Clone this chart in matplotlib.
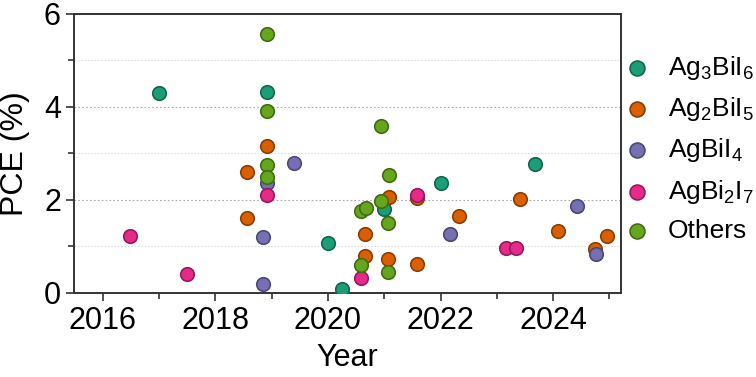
import numpy as np
import matplotlib
matplotlib.use("Agg")
import matplotlib.pyplot as plt
from matplotlib.colors import to_rgb
from matplotlib.ticker import MultipleLocator

plt.rcParams["font.family"] = ["Liberation Sans", "DejaVu Sans"]
plt.rcParams["mathtext.default"] = "regular"

# Ag3BiI6
ag3_year = [2017.0, 2018.91, 2020.0, 2020.25, 2021.0, 2022.0, 2023.67]
ag3_pce = [4.30, 4.33, 1.08, 0.08, 1.81, 2.37, 2.77]

# Ag2BiI5
ag2_year = [2018.57, 2018.57, 2018.91, 2020.66, 2020.66, 2021.09, 2021.07,
            2021.58, 2021.58, 2022.33, 2023.42, 2024.08, 2024.75, 2024.95]
ag2_pce = [2.60, 1.61, 3.17, 1.27, 0.79, 2.06, 0.72,
           2.04, 0.63, 1.66, 2.01, 1.33, 0.95, 1.23]

# AgBiI4
ag1_year = [2018.85, 2018.85, 2018.91, 2019.40, 2022.16, 2024.42, 2024.76]
ag1_pce = [1.21, 0.20, 2.37, 2.80, 1.27, 1.88, 0.84]

# AgBi2I7
agbi2_year = [2016.49, 2017.49, 2018.91, 2020.58, 2021.58, 2023.16, 2023.34]
agbi2_pce = [1.23, 0.41, 2.10, 0.32, 2.11, 0.97, 0.97]

# Others
oth_year = [2018.91, 2018.91, 2018.91, 2018.91, 2020.94, 2021.09, 2020.58,
            2020.67, 2020.94, 2021.07, 2020.58, 2021.07]
oth_pce = [5.56, 3.91, 2.76, 2.49, 3.60, 2.54, 1.77,
           1.83, 1.98, 1.51, 0.59, 0.44]

series = [
    ("Ag$_3$BiI$_6$", ag3_year, ag3_pce, "#1b9e77"),
    ("Ag$_2$BiI$_5$", ag2_year, ag2_pce, "#d95f02"),
    ("AgBiI$_4$", ag1_year, ag1_pce, "#7570b3"),
    ("AgBi$_2$I$_7$", agbi2_year, agbi2_pce, "#e7298a"),
    ("Others", oth_year, oth_pce, "#66a61e"),
]

fig = plt.figure(figsize=(7.56, 3.77), dpi=100)
ax = fig.add_axes([0.098, 0.223, 0.723, 0.740])

for label, xs, ys, col in series:
    edge = tuple(c * 0.65 for c in to_rgb(col))
    ax.scatter(xs, ys, s=95, color=col, edgecolors=[edge], linewidths=1.2,
               label=label, zorder=3)

ax.set_xlim(2015.49, 2025.2)
ax.set_ylim(0, 6)
ax.xaxis.set_major_locator(MultipleLocator(2))
ax.xaxis.set_minor_locator(MultipleLocator(1))
ax.yaxis.set_major_locator(MultipleLocator(2))
ax.yaxis.set_minor_locator(MultipleLocator(1))

ax.grid(True, which="major", axis="y", color="#aaaaaa", linestyle=(0, (1.5, 2)),
        linewidth=0.8, zorder=0)
ax.grid(True, which="minor", axis="y", color="#dddddd", linestyle=(0, (1.5, 1.5)),
        linewidth=0.8, zorder=0)
ax.set_axisbelow(True)

for sp in ax.spines.values():
    sp.set_color("#333333")
    sp.set_linewidth(1.4)
ax.tick_params(which="major", direction="out", length=6, width=1.2,
               colors="#333333", labelsize=22, labelcolor="black")
ax.tick_params(which="minor", direction="out", length=4, width=1.2,
               colors="#333333")

ax.set_xlabel("Year", fontsize=22, labelpad=5)
ax.set_ylabel("PCE (%)", fontsize=23, labelpad=10)

leg = ax.legend(loc="upper left", bbox_to_anchor=(1.0, 0.885), frameon=False,
                fontsize=19, handlelength=0.6, handletextpad=0.9,
                labelspacing=0.5, borderaxespad=0, borderpad=0.3,
                markerscale=1.1)

fig.savefig("out.png", dpi=100)
